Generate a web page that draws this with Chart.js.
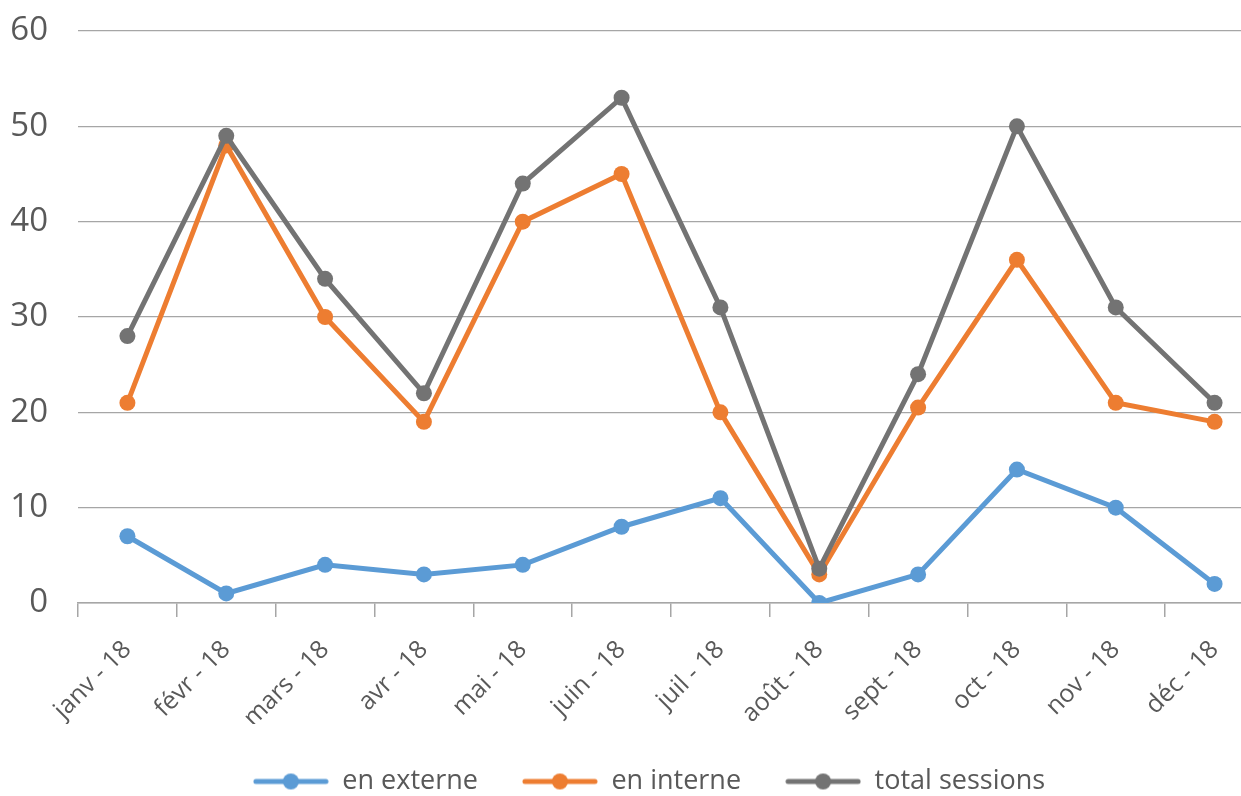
<!DOCTYPE html>
<html lang="fr">
<head>
  <meta charset="UTF-8" />
  <title>Sessions 2018</title>
  <script src="https://cdn.jsdelivr.net/npm/chart.js"></script>
  <style>
    html, body { margin: 0; padding: 0; background: #fff; overflow: hidden; }
    /* plot runs past the right edge in the original, so the canvas is a bit bigger than the window */
    .chart-container { position: relative; width: 1300px; height: 805px; }
  </style>
</head>
<body>
  <div class="chart-container">
    <canvas id="sessionsChart"></canvas>
  </div>

  <script>
    const months = ['janv - 18', 'févr - 18', 'mars - 18', 'avr - 18', 'mai - 18', 'juin - 18',
                    'juil - 18', 'août - 18', 'sept - 18', 'oct - 18', 'nov - 18', 'déc - 18'];
    const enExterne = [7, 1, 4, 3, 4, 8, 11, 0, 3, 14, 10, 2];
    const enInterne = [21, 48, 30, 19, 40, 45, 20, 3, 20.5, 36, 21, 19];
    const totalSessions = [28, 49, 34, 22, 44, 53, 31, 3.6, 24, 50, 31, 21];
    const yTicks = [0, 10, 20, 30, 40, 50, 60];

    const textColor = '#595959';
    const fontName = '"Open Sans", sans-serif';

    // legend icon: short line with a dot in the middle
    function legendIcon(color) {
      const c = document.createElement('canvas');
      c.width = 76; c.height = 18;
      const g = c.getContext('2d');
      g.strokeStyle = color;
      g.lineWidth = 5;
      g.lineCap = 'round';
      g.beginPath(); g.moveTo(3, 9); g.lineTo(73, 9); g.stroke();
      g.fillStyle = color;
      g.beginPath(); g.arc(38, 9, 8, 0, Math.PI * 2); g.fill();
      return c;
    }

    function serie(label, data, color, order) {
      return {
        label: label,
        data: data,
        borderColor: color,
        backgroundColor: color,
        borderWidth: 5,
        pointRadius: 8,
        pointHoverRadius: 8,
        pointBorderWidth: 0,
        tension: 0,
        order: order
      };
    }

    // legend sits a little right of the canvas centre in the original
    const nudgeLegend = {
      id: 'nudgeLegend',
      afterUpdate(chart) {
        if (chart.legend) { chart.legend.left += 17; chart.legend.right += 17; }
      }
    };

    const ctx = document.getElementById('sessionsChart').getContext('2d');
    new Chart(ctx, {
      type: 'line',
      data: {
        labels: months,
        datasets: [
          serie('en externe', enExterne, '#5B9BD5', 3),
          serie('en interne', enInterne, '#ED7D31', 2),
          serie('total sessions', totalSessions, '#737373', 1)
        ]
      },
      options: {
        responsive: true,
        maintainAspectRatio: false,
        animation: false,
        layout: { padding: { top: 31, right: 36, bottom: 0, left: 0 } },
        plugins: {
          tooltip: { enabled: false },
          legend: {
            position: 'bottom',
            labels: {
              color: textColor,
              font: { family: fontName, size: 27 },
              usePointStyle: true,
              pointStyleWidth: 76,
              padding: 44,
              sort: (a, b) => a.datasetIndex - b.datasetIndex,
              generateLabels: (chart) => {
                const items = Chart.defaults.plugins.legend.labels.generateLabels(chart);
                items.forEach(it => {
                  it.pointStyle = legendIcon(chart.data.datasets[it.datasetIndex].borderColor);
                });
                return items;
              }
            }
          }
        },
        scales: {
          x: {
            offset: true,
            grid: {
              offset: true,
              drawOnChartArea: false,
              drawTicks: true,
              tickLength: 14,
              color: '#A6A6A6',
              lineWidth: 1.5
            },
            border: { display: true, color: '#A6A6A6', width: 1.5 },
            ticks: {
              color: textColor,
              font: { family: fontName, size: 25 },
              minRotation: 45,
              maxRotation: 45,
              autoSkip: false,
              padding: 18
            },
            afterFit: (scale) => { scale.height = 121; }
          },
          y: {
            min: 0,
            max: 60,
            afterBuildTicks: (scale) => { scale.ticks = yTicks.map(v => ({ value: v })); },
            // invisible tick marks keep the labels away from the grid without padding the top
            grid: { color: '#A6A6A6', lineWidth: 1.2, drawTicks: true, tickLength: 26, tickColor: 'rgba(0,0,0,0)' },
            border: { display: false },
            ticks: {
              color: textColor,
              font: { family: fontName, size: 33 },
              padding: 4
            },
            afterFit: (scale) => { scale.width = 78; }
          }
        }
      },
      plugins: [nudgeLegend]
    });
  </script>
</body>
</html>
